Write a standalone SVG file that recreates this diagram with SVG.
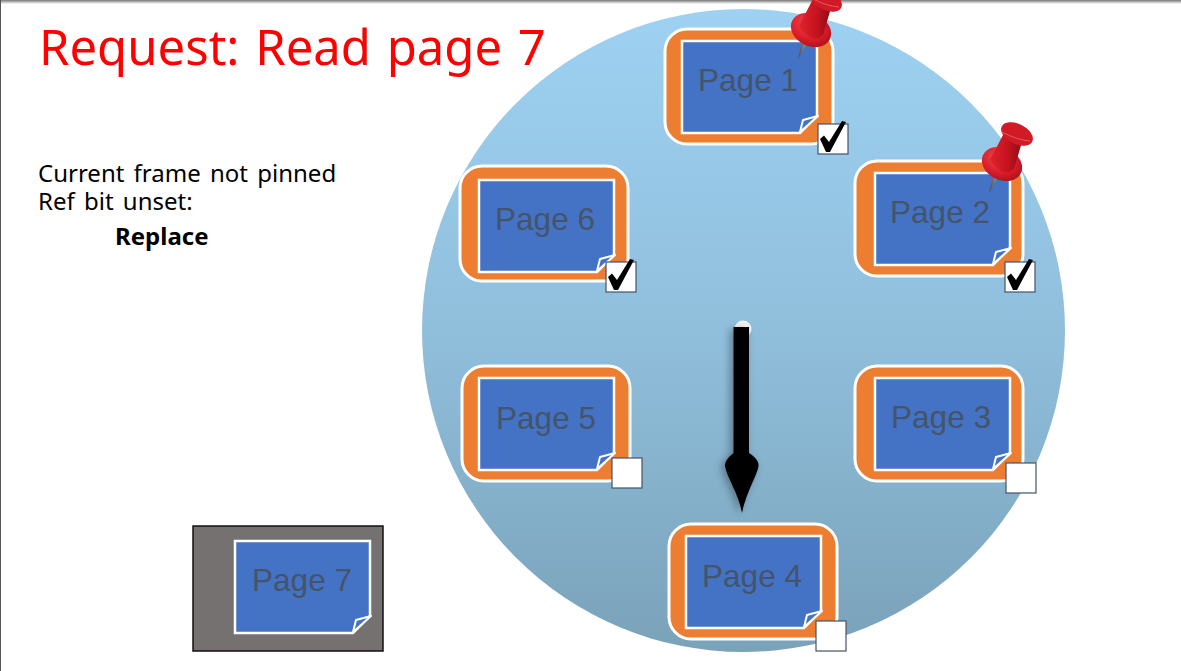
<svg xmlns="http://www.w3.org/2000/svg" xmlns:xlink="http://www.w3.org/1999/xlink" width="1181" height="671" viewBox="0 0 1181 671">
<style>
.title{font-family:"Noto Sans","Open Sans",sans-serif;font-size:49px;fill:#ff0000;word-spacing:3px}
.body{font-family:"Noto Sans","Open Sans",sans-serif;font-size:24px;fill:#000;word-spacing:3px}
.bold{font-weight:700}
.page{font-family:"Liberation Sans",Arial,sans-serif;font-size:31.500px;fill:#44546a;text-anchor:middle}
.frame{fill:#ed7d31;stroke:#fff;stroke-width:3}
.sheet{fill:#4472c4;stroke:#fff;stroke-width:2.500}
.flap{fill:#4472c4;stroke:#fff;stroke-width:2;stroke-linejoin:round}
.box{fill:#fff;stroke:#44546a;stroke-width:1.200}
</style>
<defs>
<linearGradient id="dial" x1="0" y1="0" x2="0" y2="1"><stop offset="0" stop-color="#9ed1f2"/><stop offset="0.5" stop-color="#90bfdc"/><stop offset="1" stop-color="#7aa2b9"/></linearGradient>
<linearGradient id="top" x1="0" y1="0" x2="0" y2="1"><stop offset="0" stop-color="#777"/><stop offset="1" stop-color="#fff"/></linearGradient>
<linearGradient id="pinBody" x1="0" y1="0" x2="1" y2="0"><stop offset="0" stop-color="#e0222c"/><stop offset="0.55" stop-color="#c5131f"/><stop offset="1" stop-color="#8c0d16"/></linearGradient>
<radialGradient id="pinDisc" cx="0.35" cy="0.4" r="0.75"><stop offset="0" stop-color="#f0444c"/><stop offset="0.6" stop-color="#d81c28"/><stop offset="1" stop-color="#a50f1a"/></radialGradient>
<linearGradient id="needle" x1="0" y1="0" x2="1" y2="0"><stop offset="0" stop-color="#444"/><stop offset="0.6" stop-color="#888"/><stop offset="1" stop-color="#ddd"/></linearGradient>
<filter id="soft" x="-60%" y="-10%" width="220%" height="120%"><feDropShadow dx="-3" dy="2" stdDeviation="4" flood-color="#000" flood-opacity="0.35"/></filter>
<g id="sheetShape">
<path class="sheet" d="M0 0H135V75L118 92H0Z"/>
<path class="flap" d="M118 91L136 75L121 79Z"/>
</g>
<g id="frameShape"><rect class="frame" x="0" y="0" width="168" height="115" rx="22"/></g>
<g id="checkBox"><rect class="box" x="0" y="0" width="30" height="30"/></g>
<path id="tick" d="M2 15L6 11.500L11 18L24 -3L28 -2L12 28L8 28Z" fill="#000"/>
<g id="pin">
<path d="M0 0L5.500 -22L11 -20Z" fill="url(#needle)"/>
<ellipse cx="13" cy="-29" rx="21" ry="16" transform="rotate(26 13 -29)" fill="url(#pinDisc)"/>
<path d="M15 -60L33 -51L25 -24Q14 -14 1 -33Z" fill="url(#pinBody)"/>
<ellipse cx="28" cy="-59" rx="17" ry="10" transform="rotate(26 28 -59)" fill="#d01a26"/>
<path d="M13 -61Q28 -53 41 -52" fill="none" stroke="#e65a60" stroke-width="1"/>
</g>
</defs>
<rect width="1181" height="671" fill="#fff"/>
<rect width="1181" height="4" fill="url(#top)"/>
<rect x="0" y="0" width="1" height="671" fill="#555"/>
<circle id="dial-face" cx="743.500" cy="330.500" r="321.500" fill="url(#dial)"/>
<text class="title" x="39" y="65">Request: Read page 7</text>
<text class="body" x="38" y="182">Current frame not pinned</text>
<text class="body" x="38" y="210">Ref bit unset:</text>
<text class="body bold" x="115" y="245">Replace</text>
<g id="node-page1">
<use href="#frameShape" x="665" y="29"/><use href="#sheetShape" x="682" y="41"/>
<text class="page" x="748" y="91">Page 1</text>
<use href="#checkBox" x="818" y="124"/><use href="#tick" x="818" y="124"/>
<use href="#pin" x="798" y="59"/>
</g>
<g id="node-page2">
<use href="#frameShape" x="855" y="161"/><use href="#sheetShape" x="875" y="173"/>
<text class="page" x="940" y="223">Page 2</text>
<use href="#checkBox" x="1005" y="262"/><use href="#tick" x="1005" y="262"/>
<use href="#pin" x="989" y="193"/>
</g>
<g id="node-page3">
<use href="#frameShape" x="855" y="366"/><use href="#sheetShape" x="875" y="378"/>
<text class="page" x="941" y="428">Page 3</text>
<use href="#checkBox" x="1006" y="463"/>
</g>
<g id="node-page4">
<use href="#frameShape" x="669" y="524"/><use href="#sheetShape" x="686" y="536"/>
<text class="page" x="752" y="587">Page 4</text>
<use href="#checkBox" x="816" y="621"/>
</g>
<g id="node-page5">
<use href="#frameShape" x="462" y="366"/><use href="#sheetShape" x="479" y="378"/>
<text class="page" x="546" y="429">Page 5</text>
<use href="#checkBox" x="612" y="458"/>
</g>
<g id="node-page6">
<use href="#frameShape" x="460" y="166"/><use href="#sheetShape" x="479" y="180"/>
<text class="page" x="545" y="230">Page 6</text>
<use href="#checkBox" x="606" y="262"/><use href="#tick" x="606" y="262"/>
</g>
<g id="clock-hand">
<circle cx="743" cy="329" r="8.500" fill="#f4f4f4"/>
<path filter="url(#soft)" d="M733.500 327H749V453C755 457 759 461 758.500 466C757 476 747 490 742 513C738 492 727 478 725 466C725 460 730 456 733.500 453Z" fill="#000"/>
</g>
<g id="node-page7">
<rect x="193" y="526" width="190" height="125" fill="#767171" stroke="#111" stroke-width="1.500"/>
<use href="#sheetShape" x="235" y="541"/>
<text class="page" x="302" y="591">Page 7</text>
</g>
</svg>
